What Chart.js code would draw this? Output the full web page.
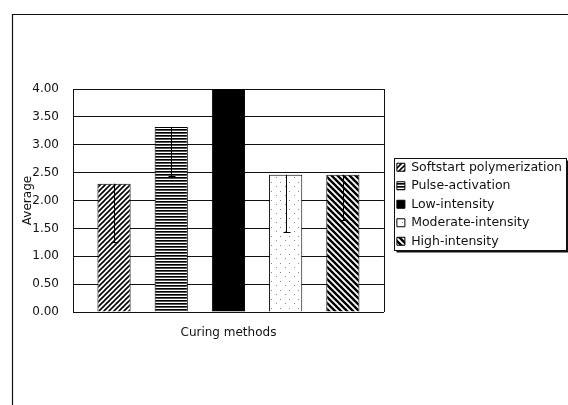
<!DOCTYPE html>
<html>
<head>
<meta charset="utf-8">
<script src="https://cdn.jsdelivr.net/npm/chart.js@4.4.1/dist/chart.umd.min.js"></script>
<style>
  html, body { margin: 0; padding: 0; background: #fff; }
  #wrap { position: relative; width: 568px; height: 405px; }
</style>
</head>
<body>
<div id="wrap"><canvas id="c" width="568" height="405"></canvas></div>
<script>
// ---- data ----
const categories = [''];
const seriesNames = ['Softstart polymerization', 'Pulse-activation', 'Low-intensity', 'Moderate-intensity', 'High-intensity'];
const averages = [2.30, 3.32, 4.00, 2.46, 2.46];
const errorMinus = [1.04, 0.88, 0.00, 1.02, 0.81];
const yTicks = [0, 0.5, 1, 1.5, 2, 2.5, 3, 3.5, 4];
const yAxisTitle = 'Average';
const xAxisTitle = 'Curing methods';

// ---- patterns ----
function makeTile(w, h, draw) {
  const c = document.createElement('canvas');
  c.width = w; c.height = h;
  const g = c.getContext('2d');
  g.fillStyle = '#fff'; g.fillRect(0, 0, w, h);
  draw(g, w, h);
  return document.getElementById('c').getContext('2d').createPattern(c, 'repeat');
}
const patForward = makeTile(5, 5, (g, s) => {
  g.strokeStyle = '#000'; g.lineWidth = 1.6;
  g.beginPath();
  g.moveTo(-1, s + 1); g.lineTo(s + 1, -1);
  g.moveTo(-1, 1); g.lineTo(1, -1);
  g.moveTo(s - 1, s + 1); g.lineTo(s + 1, s - 1);
  g.stroke();
});
const patHoriz = makeTile(4, 3, (g) => {
  g.fillStyle = '#000'; g.fillRect(0, 0, 4, 1);
  g.fillStyle = '#555'; g.fillRect(0, 1, 4, 1);
});
const patDots = makeTile(9, 9, (g) => {
  g.fillStyle = '#888';
  g.fillRect(1, 2, 1, 1);
  g.fillRect(6, 6, 1, 1);
});
const patBack = makeTile(6, 6, (g, s) => {
  g.strokeStyle = '#000'; g.lineWidth = 2.4;
  g.beginPath();
  g.moveTo(-1, -1); g.lineTo(s + 1, s + 1);
  g.moveTo(s - 1, -1); g.lineTo(s + 1, 1);
  g.moveTo(-1, s - 1); g.lineTo(1, s + 1);
  g.stroke();
});
const fills = [patForward, patHoriz, '#000', patDots, patBack];

const FONT = "'DejaVu Sans', sans-serif";

const framePlugin = {
  id: 'frame',
  beforeDraw(chart) {
    const ctx = chart.ctx;
    ctx.save();
    ctx.fillStyle = '#fff';
    ctx.fillRect(0, 0, chart.width, chart.height);
    ctx.strokeStyle = '#111';
    ctx.lineWidth = 1.2;
    ctx.beginPath();
    ctx.moveTo(12.5, chart.height); ctx.lineTo(12.5, 14.5); ctx.lineTo(chart.width, 14.5);
    ctx.stroke();
    ctx.restore();
  },
  afterLayout(chart) {
    const lg = chart.legend;
    if (!lg) return;
    const dx = (chart.chartArea.right + 7) - lg.left;
    lg.left += dx; lg.right += dx;
    const dy = 155 - lg.top;
    lg.top += dy; lg.bottom += dy;
  },
  afterDraw(chart) {
    const ctx = chart.ctx;
    const a = chart.chartArea;
    ctx.save();
    // plot right border
    ctx.strokeStyle = '#111';
    ctx.lineWidth = 1;
    ctx.beginPath();
    ctx.moveTo(Math.round(a.right) + 0.5, a.top);
    ctx.lineTo(Math.round(a.right) + 0.5, a.bottom);
    ctx.stroke();
    // legend box
    const lg = chart.legend;
    if (lg) {
      const x0 = Math.round(lg.left) + 3.5;
      const y0 = Math.round(lg.top) + 3.5;
      const x1 = chart.width - 1.5;
      const y1 = y0 + 92;
      ctx.strokeStyle = '#111';
      ctx.lineWidth = 1;
      ctx.strokeRect(x0, y0, x1 - x0, y1 - y0);
      ctx.lineWidth = 2;
      ctx.beginPath();
      ctx.moveTo(x0 + 2, y1 + 1); ctx.lineTo(x1 + 1, y1 + 1); ctx.lineTo(x1 + 1, y0 + 2);
      ctx.stroke();
    }
    ctx.restore();
  }
};

const errorBarPlugin = {
  id: 'errbars',
  afterDatasetsDraw(chart) {
    const ctx = chart.ctx;
    const ys = chart.scales.y;
    ctx.save();
    ctx.strokeStyle = '#000';
    ctx.lineWidth = 1;
    chart.data.datasets.forEach((ds, i) => {
      const meta = chart.getDatasetMeta(i);
      const el = meta.data[0];
      const err = errorMinus[i];
      if (!el || !err) return;
      const v = ds.data[0];
      const x = Math.round(el.x) + 0.5;
      const yTop = ys.getPixelForValue(v);
      const yLow = Math.round(ys.getPixelForValue(v - err)) + 0.5;
      ctx.beginPath();
      ctx.moveTo(x, yTop);
      ctx.lineTo(x, yLow);
      ctx.moveTo(x - 3, yLow);
      ctx.lineTo(x + 4, yLow);
      ctx.stroke();
    });
    ctx.restore();
  }
};

const datasets = seriesNames.map((name, i) => ({
  label: name,
  data: [averages[i]],
  backgroundColor: fills[i],
  borderColor: '#000',
  borderWidth: 1,
  categoryPercentage: 0.92,
  barPercentage: 0.58
}));

new Chart(document.getElementById('c'), {
  type: 'bar',
  data: { labels: categories, datasets },
  plugins: [framePlugin, errorBarPlugin],
  options: {
    responsive: false,
    animation: false,
    devicePixelRatio: 1,
    layout: { padding: { top: 89, right: 3, bottom: 0, left: 0 } },
    plugins: {
      title: { display: false },
      tooltip: { enabled: false },
      legend: {
        display: true,
        position: 'right',
        align: 'start',
        maxWidth: 184,
        labels: {
          boxWidth: 8,
          boxHeight: 8,
          padding: 6,
          color: '#111',
          font: { family: FONT, size: 12.5 }
        }
      }
    },
    scales: {
      x: {
        ticks: { display: false },
        grid: { display: false, drawTicks: false },
        border: { display: true, color: '#111', width: 1 },
        title: {
          display: true,
          text: xAxisTitle,
          color: '#111',
          font: { family: FONT, size: 12 },
          padding: { top: 4, bottom: 65 }
        },
        afterFit(scale) { scale.height = 93; }
      },
      y: {
        min: 0,
        max: 4,
        afterBuildTicks(scale) { scale.ticks = yTicks.map(v => ({ value: v })); },
        ticks: {
          color: '#111',
          font: { family: FONT, size: 12 },
          padding: 14,
          callback: (v) => Number(v).toFixed(2)
        },
        grid: { display: true, color: '#111', lineWidth: 1, drawTicks: false },
        border: { display: true, color: '#111', width: 1 },
        title: {
          display: true,
          text: yAxisTitle,
          color: '#111',
          font: { family: FONT, size: 12 },
          padding: { top: 21, bottom: 0 }
        },
        afterFit(scale) { scale.width = 73; }
      }
    }
  }
});
</script>
</body>
</html>
